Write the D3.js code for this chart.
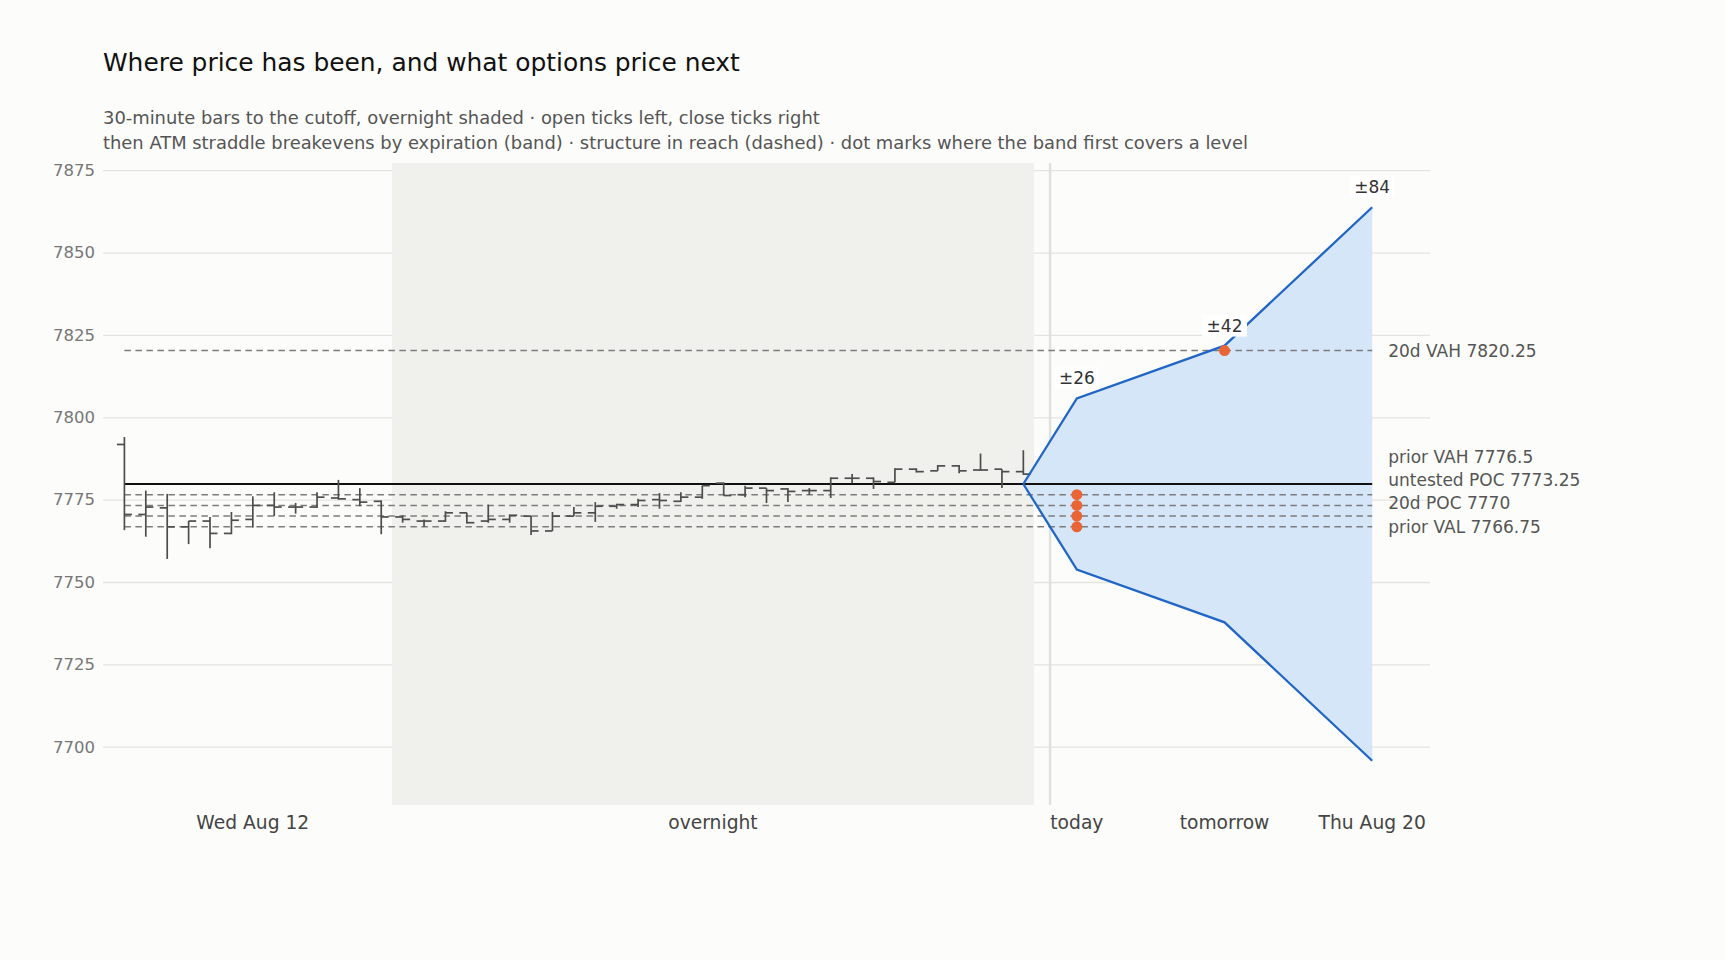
<!DOCTYPE html>
<html lang="en">
<head>
<meta charset="utf-8">
<script src="https://d3js.org/d3.v7.min.js"></script>
<style>
  body { margin: 0; background: #fcfcfa; }
  svg { display: block; font-family: "DejaVu Sans", sans-serif; }
</style>
</head>
<body>
<svg id="chart" width="1725" height="960"></svg>
<script>
// 30-minute bars up to the cutoff (open, high, low, close)
var barOpen  = [7791.75, 7770.5, 7772.5, 7766.75, 7768.5, 7764.75, 7769, 7773.25, 7772.75, 7772.75,
                7775.5, 7775, 7774.5, 7769.75, 7768.5, 7768.5, 7771, 7768.5, 7769, 7770,
                7765.5, 7770, 7771, 7773, 7773.5, 7775, 7774.5, 7775.75, 7780, 7776.5,
                7778.5, 7778.25, 7777.75, 7777.75, 7781.5, 7781.5, 7780.25, 7784.25, 7783.75, 7785.25,
                7784, 7784.25, 7783.5];
var barHigh  = [7794, 7777.75, 7776.75, 7768.5, 7769.75, 7771.25, 7776, 7777.25, 7774, 7777.25,
                7781, 7778.5, 7774.75, 7770.25, 7769, 7771.5, 7771, 7773.5, 7770.5, 7770,
                7771.25, 7772.75, 7774.25, 7773.75, 7775.25, 7777, 7777.25, 7779.25, 7780.25, 7779.25,
                7778.5, 7778.5, 7778.5, 7781.75, 7782.75, 7781.75, 7784.5, 7784.5, 7785.5, 7785.5,
                7789, 7784.25, 7790];
var barLow   = [7765.75, 7763.75, 7757, 7761.5, 7760.25, 7764.5, 7766.5, 7770, 7770.75, 7772.5,
                7775, 7773, 7764.5, 7768, 7766.75, 7768.25, 7767.75, 7768, 7768, 7764.25,
                7765.5, 7770, 7768.25, 7772.25, 7772.75, 7772.25, 7774.25, 7775.25, 7776.25, 7775.75,
                7774, 7774.25, 7776.5, 7775.5, 7780, 7778.25, 7780.25, 7783.25, 7783.75, 7783,
                7783.75, 7778.5, 7782.5];
var barClose = [7770.5, 7772.75, 7766.75, 7768.5, 7764.75, 7768.75, 7773.25, 7772.75, 7772.75, 7775.75,
                7775.25, 7774.25, 7769.75, 7769, 7768.5, 7771, 7768, 7769, 7770.25, 7765.5,
                7770, 7771, 7773, 7773.5, 7774.75, 7774.75, 7775.75, 7779.25, 7776.25, 7778.5,
                7777.75, 7777.5, 7777.75, 7781.5, 7781.5, 7780.5, 7784.25, 7783.5, 7785.25, 7783.75,
                7784, 7783.5, 7782.75];

var dayBars = 13;                              // the Wed session; the rest is overnight
var sessionNames = ['Wed Aug 12', 'overnight'];

var cutoffPrice = 7779.75;
var expiries  = ['today', 'tomorrow', 'Thu Aug 20'];
var straddles = [26, 42, 84];

var levelNames  = ['20d VAH', 'prior VAH', 'untested POC', '20d POC', 'prior VAL'];
var levelValues = [7820.25, 7776.5, 7773.25, 7770, 7766.75];

var yTicks = [7700, 7725, 7750, 7775, 7800, 7825, 7850, 7875];

// plot box
var plotL = 103, plotR = 1430, plotT = 163, plotB = 805;
var nBars = barOpen.length, last = nBars - 1;

var svg = d3.select('#chart');

svg.append('rect').attr('width', 1725).attr('height', 960).attr('fill', '#fcfcfa');

var x = d3.scaleLinear().domain([-1, last + 19]).range([plotL, plotR]);
var fx = d3.scalePoint().domain(expiries).range([x(last + 2.5), x(last + 16.3)]);

var maxStraddle = d3.max(straddles);
var lo = cutoffPrice - maxStraddle, hi = cutoffPrice + maxStraddle;
var pad = (hi - lo) * 0.08;
var y = d3.scaleLinear().domain([lo - pad, hi + pad]).range([plotB, plotT]);

// title
svg.append('text').attr('x', plotL).attr('y', 62).attr('dy', '0.35em')
  .attr('font-size', 24.9).attr('fill', '#111')
  .text('Where price has been, and what options price next');
svg.append('text').attr('x', plotL).attr('y', 118).attr('dy', '0.35em')
  .attr('font-size', 17.9).attr('fill', '#555')
  .text('30-minute bars to the cutoff, overnight shaded \u00b7 open ticks left, close ticks right');
svg.append('text').attr('x', plotL).attr('y', 143).attr('dy', '0.35em')
  .attr('font-size', 17.9).attr('fill', '#555')
  .text('then ATM straddle breakevens by expiration (band) \u00b7 structure in reach (dashed) \u00b7 dot marks where the band first covers a level');

// grid + y axis
var yAxis = d3.axisLeft(y).tickValues(yTicks).tickSize(-(plotR - plotL)).tickPadding(8).tickFormat(d3.format('d'));
var gy = svg.append('g').attr('transform', 'translate(' + plotL + ',0)').call(yAxis);
gy.select('.domain').remove();
gy.selectAll('.tick line').attr('stroke', '#e3e3df').attr('stroke-width', 1.3);
gy.selectAll('.tick text').attr('fill', '#777').attr('font-size', 16.5)
  .attr('font-family', '"DejaVu Sans", sans-serif');

// overnight shading
svg.append('rect')
  .attr('x', x(dayBars - 0.5)).attr('y', plotT)
  .attr('width', x(last + 0.5) - x(dayBars - 0.5)).attr('height', plotB - plotT)
  .attr('fill', '#f0f0ec');

// cutoff / expiries separator
var sepX = (x(last) + fx(expiries[0])) / 2;
svg.append('line').attr('x1', sepX).attr('x2', sepX).attr('y1', plotT).attr('y2', plotB)
  .attr('stroke', '#e0e0dc').attr('stroke-width', 2.5);

// straddle band
var bandPts = expiries.map(function(e, i) {
  return { x: fx(e), up: cutoffPrice + straddles[i], dn: cutoffPrice - straddles[i], s: straddles[i] };
});
var start = { x: x(last), up: cutoffPrice, dn: cutoffPrice };
var bandData = [start].concat(bandPts);

svg.append('path').datum(bandData)
  .attr('d', d3.area().x(function(d) { return d.x; })
    .y0(function(d) { return y(d.dn); }).y1(function(d) { return y(d.up); }))
  .attr('fill', '#d6e6f9');

// structure levels
var lineEnd = fx(expiries[expiries.length - 1]);
svg.selectAll('.level').data(levelValues).enter().append('line')
  .attr('class', 'level')
  .attr('x1', x(0)).attr('x2', lineEnd)
  .attr('y1', function(d) { return y(d); }).attr('y2', function(d) { return y(d); })
  .attr('stroke', '#7c7c7c').attr('stroke-width', 1.5).attr('stroke-dasharray', '6.5,4.5');

svg.append('line')
  .attr('x1', x(0)).attr('x2', lineEnd)
  .attr('y1', y(cutoffPrice)).attr('y2', y(cutoffPrice))
  .attr('stroke', '#111').attr('stroke-width', 2);

// OHLC bars
var tick = 7.5;
var bars = svg.append('g').attr('stroke', '#4d4d4d').attr('stroke-width', 1.7);
d3.range(nBars).forEach(function(i) {
  var cx = x(i);
  bars.append('line').attr('x1', cx).attr('x2', cx).attr('y1', y(barHigh[i])).attr('y2', y(barLow[i]));
  bars.append('line').attr('x1', cx - tick).attr('x2', cx).attr('y1', y(barOpen[i])).attr('y2', y(barOpen[i]));
  bars.append('line').attr('x1', cx).attr('x2', cx + tick).attr('y1', y(barClose[i])).attr('y2', y(barClose[i]));
});

// band edges
['up', 'dn'].forEach(function(k) {
  svg.append('path').datum(bandData)
    .attr('d', d3.line().x(function(d) { return d.x; }).y(function(d) { return y(d[k]); }))
    .attr('fill', 'none').attr('stroke', '#2166c6').attr('stroke-width', 2.3);
});

// dot where the band first covers a level
levelValues.forEach(function(v) {
  var hit = bandPts.find(function(p) { return v >= p.dn && v <= p.up; });
  if (!hit) return;
  svg.append('circle').attr('cx', hit.x).attr('cy', y(v)).attr('r', 5.5).attr('fill', '#ea6535');
});

// straddle labels with white boxes
bandPts.forEach(function(p) {
  var g = svg.append('g');
  var t = g.append('text').attr('x', p.x).attr('y', y(p.up) - 20).attr('dy', '0.35em')
    .attr('text-anchor', 'middle').attr('font-size', 17).attr('fill', '#333')
    .text('\u00b1' + p.s);
  var bb = t.node().getBBox();
  g.insert('rect', 'text').attr('x', bb.x - 4.5).attr('y', bb.y - 1)
    .attr('width', bb.width + 9).attr('height', bb.height + 2).attr('fill', '#fff');
});

// level labels, spread so they do not overlap
var labels = levelNames.map(function(n, i) { return { text: n + ' ' + levelValues[i], y: y(levelValues[i]) }; })
  .sort(function(a, b) { return b.y - a.y; });
for (var i = 1; i < labels.length; i++) {
  labels[i].y = Math.min(labels[i].y, labels[i - 1].y - 23.3);
}
svg.selectAll('.lvl-label').data(labels).enter().append('text')
  .attr('class', 'lvl-label')
  .attr('x', lineEnd + 16).attr('y', function(d) { return d.y; }).attr('dy', '0.35em')
  .attr('font-size', 17).attr('fill', '#555')
  .text(function(d) { return d.text; });

// x labels
var xLabels = [
  { text: sessionNames[0], x: x((dayBars - 1) / 2) },
  { text: sessionNames[1], x: x((dayBars + last) / 2) }
].concat(expiries.map(function(e) { return { text: e, x: fx(e) }; }));

svg.selectAll('.x-label').data(xLabels).enter().append('text')
  .attr('class', 'x-label')
  .attr('x', function(d) { return d.x; }).attr('y', 822).attr('dy', '0.35em')
  .attr('text-anchor', 'middle').attr('font-size', 18.7).attr('fill', '#444')
  .text(function(d) { return d.text; });
</script>
</body>
</html>
